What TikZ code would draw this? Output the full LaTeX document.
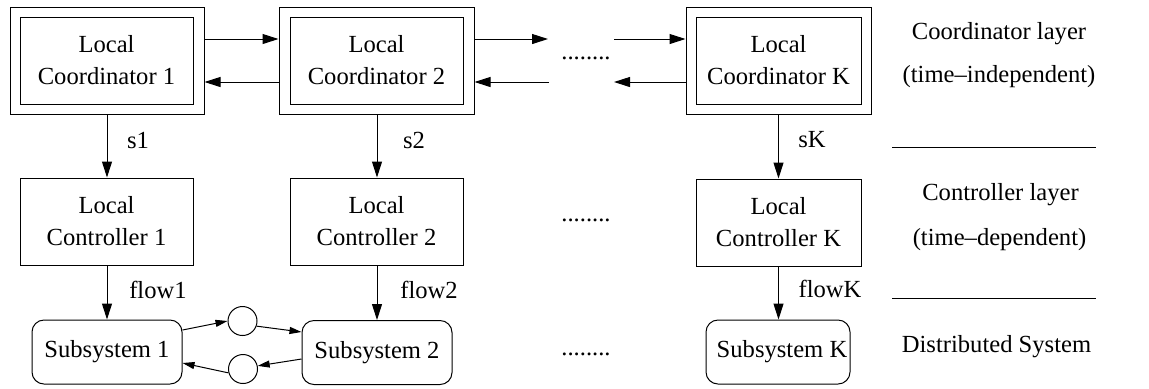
\documentclass[tikz,border=0pt]{standalone}
\usepackage{fontspec}
\setmainfont{Liberation Serif}
\usetikzlibrary{arrows.meta}
\begin{document}
\begin{tikzpicture}[x=0.5pt,y=-0.5pt,
  font=\fontsize{12.3}{16}\selectfont,
  line width=0.5pt,
  >={Triangle[length=8pt,width=5pt]},
  smallarr/.style={-{Triangle[length=6pt,width=3.5pt]}},
  outerbox/.style={draw,minimum width=#1,minimum height=53.5pt,inner sep=0pt},
  innerbox/.style={draw,minimum width=#1,minimum height=43.5pt,inner sep=0pt,align=center},
  ctrlbox/.style={draw,minimum width=#1,minimum height=43.5pt,inner sep=0pt,align=center},
  subbox/.style={draw,rounded corners=6pt,minimum width=#1,minimum height=32pt,inner sep=0pt},
  place/.style={draw,circle,minimum size=14.5pt,inner sep=0pt},
  lbl/.style={anchor=base,inner sep=0pt}
]
\useasboundingbox (0,0) rectangle (1149,388);
% coordinators
\node[outerbox=97pt] (c1o) at (107,60.5) {};
\node[innerbox=86.5pt] (c1) at (106.5,60.5) {Local\\Coordinator 1};
\node[outerbox=97.5pt] (c2o) at (376.5,60.5) {};
\node[innerbox=86.5pt] (c2) at (376.5,60.5) {Local\\Coordinator 2};
\node[outerbox=92.5pt] (cko) at (778.5,60.5) {};
\node[innerbox=82.5pt] (ck) at (778.5,60.5) {Local\\Coordinator K};
% controllers
\node[ctrlbox=86.5pt] (l1) at (106.5,221.5) {Local\\Controller 1};
\node[ctrlbox=86.5pt] (l2) at (376.5,221.5) {Local\\Controller 2};
\node[ctrlbox=82.5pt] (lk) at (778.5,222.5) {Local\\Controller K};
% subsystems
\node[subbox=75pt] (s1) at (107,352) {Subsystem 1};
\node[subbox=75pt] (s2) at (377,352.5) {Subsystem 2};
\node[subbox=72pt] (sk) at (778,352) {\hspace*{4pt}Subsystem K};
% places
\node[place] (p1) at (242.5,321) {};
\node[place] (p2) at (243,369) {};
% dots
\node (dt1) at (586,58) {........};
\node (dt2) at (586,220) {........};
\node (dt3) at (586,354) {........};
\coordinate (a1) at (548,39);
\coordinate (a2) at (549,82);
\coordinate (a3) at (614,39);
\coordinate (a4) at (614,82);
% horizontal arrows
\draw[->] (c1o.east |- 0,39) -- (c2o.west |- 0,39);
\draw[->] (c2o.west |- 0,82) -- (c1o.east |- 0,82);
\draw[->] (c2o.east |- 0,39) -- (a1);
\draw[->] (a2) -- (c2o.east |- 0,82);
\draw[->] (a3) -- (cko.west |- 0,39);
\draw[->] (cko.west |- 0,82) -- (a4);
% vertical arrows
\draw[->] (c1o.south -| 107,0) -- (l1.north -| 107,0);
\draw[->] (c2o.south -| 377,0) -- (l2.north -| 377,0);
\draw[->] (cko.south) -- (lk.north);
\draw[->] (l1.south -| 107,0) -- (s1.north);
\draw[->] (l2.south -| 377,0) -- (s2.north);
\draw[->] (lk.south) -- (sk.north -| lk.south);
% arrow labels
\node[lbl] (ls1) at (138,148) {s1};
\node[lbl] (ls2) at (414,148) {s2};
\node[lbl] (lsk) at (812,147) {sK};
\node[lbl] (lf1) at (158,298) {flow1};
\node[lbl] (lf2) at (429,298) {flow2};
\node[lbl] (lfk) at (830,297) {flowK};
% place arrows
\draw[smallarr] (s1.east |- 0,330) -- (p1.west);
\draw[smallarr] (p1.-20) -- (s2.west |- 0,332);
\draw[smallarr] (s2.west |- 0,359) -- (p2.12);
\draw[smallarr] (p2.-165) -- (s1.east |- 0,363);
% layer labels
\node[lbl] (t1) at (999,39) {Coordinator layer};
\node[lbl] (t2) at (999,82) {(time--independent)};
\node[lbl] (t3) at (1000.5,200) {Controller layer};
\node[lbl] (t4) at (999.5,245) {(time--dependent)};
\node[lbl] (t5) at (996.5,352) {Distributed System};
\coordinate (h1a) at (892,147);
\coordinate (h1b) at (1096,147);
\coordinate (h2a) at (892,298);
\coordinate (h2b) at (1096,298);
\draw (h1a) -- (h1b);
\draw (h2a) -- (h2b);
\end{tikzpicture}
\end{document}
